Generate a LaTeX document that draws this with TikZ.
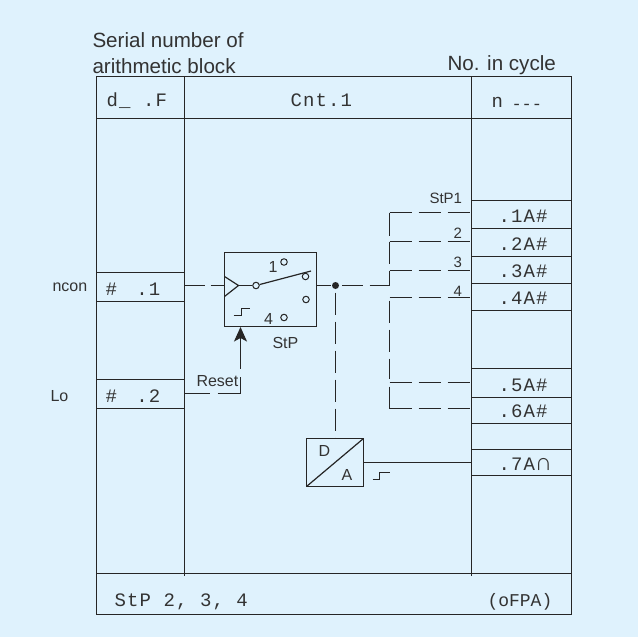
\documentclass[tikz,border=0pt]{standalone}
\usepackage{fontspec}
\setmainfont{Liberation Sans}
\newfontfamily\monof[LetterSpace=6]{Liberation Mono}
\newfontfamily\monoplain{Liberation Mono}
\usetikzlibrary{arrows.meta}
\definecolor{bgblue}{HTML}{DFF2FD}
\definecolor{ink}{HTML}{262626}
\definecolor{textink}{HTML}{333333}
\tikzset{
  x=1pt,y=-1pt,
  every path/.style={line width=1.2pt},
  frame/.style={draw=ink,line width=1.2pt},
  cell/.style={draw=ink,line width=1.2pt,anchor=north west,inner sep=0pt,outer sep=0pt,minimum width=100pt},
  lcell/.style={draw=ink,line width=1.2pt,anchor=north west,inner sep=0pt,outer sep=0pt,minimum width=88pt},
  swbox/.style={draw=ink,line width=1.2pt,anchor=north west,inner sep=0pt,outer sep=0pt},
  txt/.style={anchor=base west,inner sep=0pt,text=textink,xshift=-0.6pt},
  head/.style={txt,font=\fontsize{20.6}{24}\selectfont},
  small/.style={txt,font=\fontsize{16}{19}\selectfont},
  smaller/.style={txt,font=\fontsize{15}{18}\selectfont},
  mono/.style={txt,font=\fontsize{19}{22}\selectfont\monof},
  wire/.style={draw=ink,line width=1.2pt},
  dashwire/.style={draw=ink,line width=1.2pt,dash pattern=on 22pt off 7pt},
  contact/.style={circle,draw=ink,line width=1pt,fill=bgblue,minimum size=6.5pt,inner sep=0pt},
  junction/.style={circle,fill=ink,minimum size=7pt,inner sep=0pt},
}
\begin{document}
\begin{tikzpicture}
\fill[bgblue] (0,0) rectangle (638,637);
\useasboundingbox (0,0) rectangle (638,637);
\begin{scope}[shift={(0.5,0.5)}]
% frame
\draw[frame] (96,76) rectangle (571,614);
\draw[frame] (96,118) -- (571,118);
\draw[frame] (96,573) -- (571,573);
\draw[frame] (184,76) -- (184,575);
\draw[frame] (471,76) -- (471,575);
% left cells
\node[lcell,minimum height=29pt] (in1) at (96,272) {};
\node[lcell,minimum height=29pt] (in2) at (96,379) {};
% right cells
\node[cell,minimum height=28pt] (o1) at (471,200) {};
\node[cell,minimum height=28pt] (o2) at (471,228) {};
\node[cell,minimum height=27pt] (o3) at (471,256) {};
\node[cell,minimum height=27pt] (o4) at (471,283) {};
\node[cell,minimum height=29pt] (o5) at (471,368) {};
\node[cell,minimum height=26pt] (o6) at (471,397) {};
\node[cell,minimum height=26pt] (o7) at (471,449) {};
% headings
\node[head] at (92,47) {Serial number of};
\node[head] at (92,73) {arithmetic block};
\node[head] at (447,70) {No. in cycle};
\node[mono] at (106,106) {d\_\hspace{12.6pt}.F};
\node[mono] at (290,106) {Cnt.1};
\node[mono] at (491,107) {n};
\node[txt,font=\fontsize{17}{20}\selectfont\monoplain] at (511,109) {-{}-{}-};
\node[mono] at (105,295) {\#\hspace{19.4pt}.1};
\node[mono] at (105,402) {\#\hspace{19.4pt}.2};
\node[mono] at (498,222) {.1A\#};
\node[mono] at (498,250) {.2A\#};
\node[mono] at (498,277) {.3A\#};
\node[mono] at (498,304) {.4A\#};
\node[mono] at (498,391) {.5A\#};
\node[mono] at (498,417) {.6A\#};
\node[mono] at (498,470) {.7A{\normalfont\fontsize{24}{24}\selectfont ∩}};
\node[mono] at (114,606) {StP 2, 3, 4};
\node[txt,font=\fontsize{18}{22}\selectfont\monoplain] at (487,606) {(oFPA)};
% side labels
\node[small] at (52,291) {ncon};
\node[small] at (50,401) {Lo};
\node[small] at (196,386) {Reset};
\node[smaller] at (429,203) {StP1};
\node[smaller] at (453,238) {2};
\node[smaller] at (453,267) {3};
\node[smaller] at (453,296) {4};
% switch
\node[swbox,minimum width=92pt,minimum height=74pt] (sw) at (224,252) {};
\node[small] at (268,272) {1};
\node[small] at (263.5,324) {4};
\node[small] at (272,348) {StP};
\coordinate (triT) at (224,276);
\coordinate (triB) at (224,296);
\coordinate (triA) at (238,285);
\draw[wire] (triT) -- (triA) -- (triB);
\node[contact] (pole) at (255.5,285) {};
\node[contact] (c1) at (283.5,261.5) {};
\node[contact] (c2) at (305,276) {};
\node[contact] (c3) at (305.5,299) {};
\node[contact] (c4) at (283.5,317) {};
\coordinate (armend) at (310.5,270.5);
\draw[wire] (triA) -- (pole);
\draw[wire] (pole) -- (armend);
\coordinate (st1) at (233,315);
\draw[wire] (st1) -- ++(8,0) -- ++(0,-7) -- ++(8,0);
% output junction and bus
\node[junction] (dot) at (335,285) {};
\coordinate (swout) at (316,285);
\draw[wire] (swout) -- (dot);
\coordinate (bus) at (389,285);
\draw[draw=ink,dash pattern=on 21pt off 6.5pt,dash phase=21pt] (dot.center) -- (bus);
\coordinate (in1w) at (184,285);
\coordinate (swin) at (224,285);
\draw[draw=ink,dash pattern=on 20pt off 6pt] (in1w) -- (swin);
\coordinate (b1) at (389,212);
\coordinate (b2) at (389,241);
\coordinate (b3) at (389,270);
\coordinate (b4) at (389,297);
\coordinate (b4s) at (389,300);
\coordinate (b5) at (389,382);
\coordinate (b5s) at (389,386);
\coordinate (b6) at (389,408);
\coordinate (p1) at (471,212);
\coordinate (p2) at (471,241);
\coordinate (p3) at (471,270);
\coordinate (p4) at (471,297);
\coordinate (p5) at (471,382);
\coordinate (p6) at (471,408);
\foreach \i in {1,...,6} {\draw[dashwire] (b\i) -- (p\i);}
\draw[wire] (b1) -- ++(0,23);
\draw[wire] (b2) -- ++(0,22);
\draw[wire] (b3) -- (bus);
\draw[draw=ink,dash pattern=on 22pt off 7pt] (b4s) -- ++(0,78);
\draw[wire] (b5s) -- (b6);
% reset
\coordinate (rs) at (184,393);
\coordinate (rc) at (240,393);
\coordinate (rt) at (240,326.5);
\draw[draw=ink,dash pattern=on 25pt off 8pt] (rs) -- (rc);
\draw[draw=ink,dash pattern=on 17pt off 8pt on 27pt off 20pt] (rc) -- ++(0,-52);
\coordinate (ra) at (240,345);
\draw[draw=ink,-{Stealth[length=14.5pt,width=13pt,inset=3.5pt]}] (ra) -- (rt);
% D/A
\node[swbox,minimum width=57pt,minimum height=48pt] (da) at (306,438) {};
\draw[wire] (da.south west) -- (da.north east);
\node[small] at (318,456) {D};
\node[small] at (341,480) {A};
\draw[dashwire,dash phase=22pt] (dot.center) -- (dot.center |- da.north);
\coordinate (o7w) at (471,462);
\draw[wire] (da.east |- o7w) -- (o7w);
\coordinate (st2) at (372,479);
\draw[wire] (st2) -- ++(7,0) -- ++(0,-7) -- ++(10,0);
\end{scope}
\end{tikzpicture}
\end{document}
